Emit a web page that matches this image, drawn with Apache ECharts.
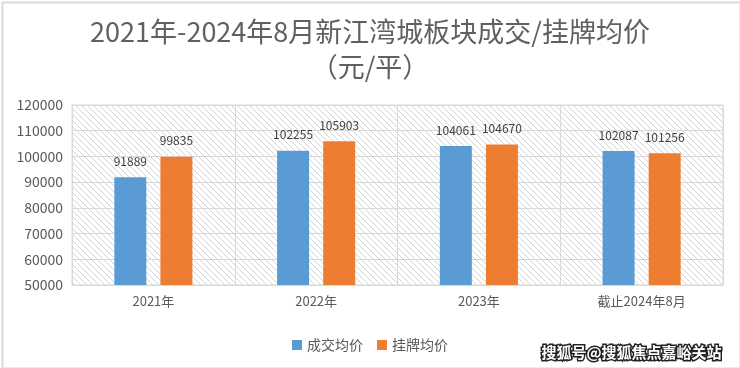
<!DOCTYPE html>
<html><head><meta charset="utf-8">
<script src="https://cdn.jsdelivr.net/npm/echarts@6/dist/echarts.min.js"></script>
<style>html,body{margin:0;padding:0;background:#fff}#c{width:740px;height:368px}</style>
</head><body><div id="c"></div>
<script>
const categories = ['2021年', '2022年', '2023年', '截止2024年8月'];
const dealPrice = [91889, 102255, 104061, 102087];
const listPrice = [99835, 105903, 104670, 101256];
const seriesNames = ['成交均价', '挂牌均价'];

function hatch() {
  const s = 6, c = document.createElement('canvas');
  c.width = s; c.height = s;
  const g = c.getContext('2d');
  g.fillStyle = '#ffffff'; g.fillRect(0, 0, s, s);
  g.strokeStyle = '#d4d4d4'; g.lineWidth = 1;
  g.beginPath();
  g.moveTo(-1, -1); g.lineTo(s + 1, s + 1);
  g.moveTo(-1, s - 1); g.lineTo(1, s + 1);
  g.moveTo(s - 1, -1); g.lineTo(s + 1, 1);
  g.stroke();
  return c;
}

const chart = echarts.init(document.getElementById('c'), null, {renderer: 'canvas'});
const font = '"Noto Sans CJK SC", sans-serif';
chart.setOption({
  animation: false,
  textStyle: {fontFamily: font},
  title: {
    text: '2021年-2024年8月新江湾城板块成交/挂牌均价\n（元/平）',
    left: 'center', top: 9,
    textStyle: {fontSize: 27, fontWeight: 'normal', color: '#606060', lineHeight: 35, fontFamily: font}
  },
  legend: {
    data: seriesNames, left: 'center', top: 333, itemWidth: 10, itemHeight: 10, itemGap: 14,
    icon: 'rect', textStyle: {fontSize: 14, color: '#595959'}
  },
  grid: {
    left: 72, right: 17, top: 105, bottom: 83, show: true,
    backgroundColor: {image: hatch(), repeat: 'repeat'},
    borderColor: '#d9d9d9', borderWidth: 1
  },
  xAxis: {
    type: 'category', data: categories,
    axisLine: {lineStyle: {color: '#d9d9d9'}},
    axisTick: {show: false},
    splitLine: {show: true, lineStyle: {color: '#d9d9d9', width: 1}},
    axisLabel: {fontSize: 13, color: '#595959', margin: 10}
  },
  yAxis: {
    type: 'value', min: 50000, max: 120000, interval: 10000,
    axisLine: {show: false}, axisTick: {show: false},
    splitLine: {lineStyle: {color: '#d9d9d9', width: 1}},
    axisLabel: {fontSize: 14, color: '#595959', margin: 9, formatter: v => String(v)}
  },
  series: [
    {name: seriesNames[0], type: 'bar', data: dealPrice, barWidth: 32, barGap: '44%',
     itemStyle: {color: '#5B9BD5'},
     label: {show: true, position: 'top', distance: 10, fontSize: 12, color: '#404040'}},
    {name: seriesNames[1], type: 'bar', data: listPrice, barWidth: 32,
     itemStyle: {color: '#ED7D31'},
     label: {show: true, position: 'top', distance: 10, fontSize: 12, color: '#404040'}}
  ],
  graphic: [
    {type: 'rect', left: 0, top: 0, silent: true,
     shape: {x: 1, y: 1, width: 738, height: 366},
     style: {fill: 'none', stroke: '#d9d9d9', lineWidth: 2}},
    {type: 'text', right: 17, top: 343,
     style: {text: '搜狐号@搜狐焦点嘉峪关站', fill: '#ffffff', stroke: '#222222', lineWidth: 3,
       font: 'bold 15px "Noto Sans CJK SC", sans-serif'}}
  ]
});
</script></body></html>
